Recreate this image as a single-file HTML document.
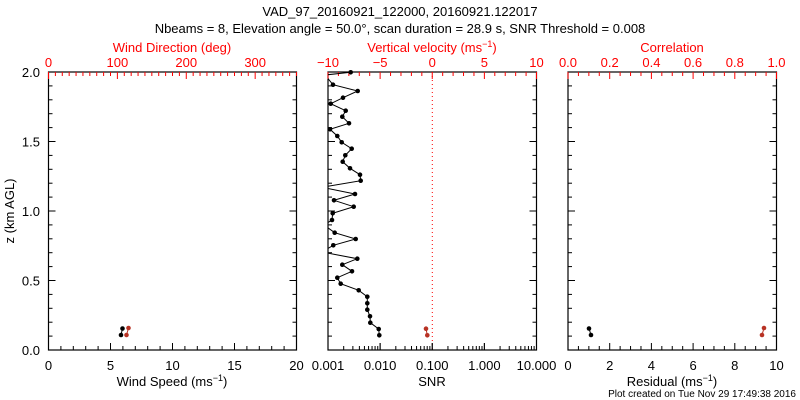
<!DOCTYPE html>
<html><head><meta charset="utf-8"><style>
html,body{margin:0;padding:0;background:#fff;}
svg{display:block;font-family:"Liberation Sans",sans-serif;}
</style></head><body>
<svg id="s" width="800" height="400" xmlns="http://www.w3.org/2000/svg">
<rect width="800" height="400" fill="#fff"/>
<text x="400" y="16" font-size="13" text-anchor="middle">VAD_97_20160921_122000, 20160921.122017</text>
<text x="400" y="33" font-size="13" text-anchor="middle">Nbeams = 8, Elevation angle = 50.0°, scan duration = 28.9 s, SNR Threshold = 0.008</text>
<g id="g"></g>
</svg>
<script>
var NS="http://www.w3.org/2000/svg",g=document.getElementById("g");
function el(t,a,txt){var e=document.createElementNS(NS,t);for(var k in a)e.setAttribute(k,a[k]);if(txt!==undefined)e.textContent=txt;g.appendChild(e);return e;}
function line(x1,y1,x2,y2,c,w,d){var a={x1:x1,y1:y1,x2:x2,y2:y2,stroke:c||"#000","stroke-width":w||1};if(d)a["stroke-dasharray"]=d;el("line",a);}
function txt(x,y,s,c,anc,fs){el("text",{x:x,y:y,fill:c||"#000","font-size":fs||13,"text-anchor":anc||"middle"},s);}
var T=72,B=350;
var panels=[[48.5,296.5],[328,536.5],[568,776.5]];
function yp(z){return B-(B-T)*z/2;}
panels.forEach(function(p,i){
  el("rect",{x:p[0],y:T,width:p[1]-p[0],height:B-T,fill:"none",stroke:"#000","stroke-width":1.2});
  for(var k=0;k<=20;k++){var y=yp(k/10),L=(k%5==0)?7:4;line(p[0],y,p[0]+L,y);line(p[1],y,p[1]-L,y);}
});
for(var k=0;k<=4;k++)txt(40,yp(k*0.5)+5,(k*0.5).toFixed(1),"#000","end");
el("text",{x:0,y:0,"font-size":13,"text-anchor":"middle",transform:"translate(14,211) rotate(-90)"},"z (km AGL)");
// panel 1
var p=panels[0],W=p[1]-p[0];
for(var k=0;k<=20;k++){var x=p[0]+W*k/20;line(x,B,x,B-(k%5?4:7));}
[0,5,10,15,20].forEach(function(v){txt(p[0]+W*v/20,370,v);});
for(var k=0;k<=36;k++){var x=p[0]+W*k*10/360;line(x,T,x,T+(k%10?4:7),"#f00");}
[0,100,200,300].forEach(function(v){txt(p[0]+W*v/360,67,v,"#f00");});
txt(172,52,"Wind Direction (deg)","#f00");
el("text",{x:172,y:386,"font-size":13,"text-anchor":"middle"}).innerHTML='Wind Speed (ms<tspan dy="-5" font-size="9">−1</tspan><tspan dy="5">)</tspan>';
// panel 2
p=panels[1];W=p[1]-p[0];
for(var k=0;k<=20;k++){var x=p[0]+W*k/20;line(x,T,x,T+(k%5?4:7),"#f00");}
[-10,-5,0,5,10].forEach(function(v){txt(p[0]+W*(v+10)/20,67,v==-10?"−10":v==-5?"−5":v,"#f00");});
line(432.3,T,432.3,B,"#f00",1,"1,3");
for(var d=0;d<4;d++)for(var m=1;m<=10;m++){var x=p[0]+W*(d+Math.log10(m))/4;line(x,B,x,B-(m==10||m==1?7:4));}
["0.001","0.010","0.100","1.000","10.000"].forEach(function(v,i){txt(p[0]+W*i/4,370,v);});
txt(432,386,"SNR");
el("text",{x:432,y:52,"font-size":13,"text-anchor":"middle",fill:"#f00"}).innerHTML='Vertical velocity (ms<tspan dy="-5" font-size="9">−1</tspan><tspan dy="5">)</tspan>';
// panel 3
p=panels[2];W=p[1]-p[0];
for(var k=0;k<=20;k++){var x=p[0]+W*k/20;line(x,B,x,B-(k%4?4:7));line(x,T,x,T+(k%4?4:7),"#f00");}
[0,2,4,6,8,10].forEach(function(v){txt(p[0]+W*v/10,370,v);});
["0.0","0.2","0.4","0.6","0.8","1.0"].forEach(function(v,i){txt(p[0]+W*i/5,67,v,"#f00");});
txt(672,52,"Correlation","#f00");
el("text",{x:672,y:386,"font-size":13,"text-anchor":"middle"}).innerHTML='Residual (ms<tspan dy="-5" font-size="9">−1</tspan><tspan dy="5">)</tspan>';
txt(796,397,"Plot created on Tue Nov 29 17:49:38 2016","#000","end",10);
// data
var pts=[[350.7,72.3],[325,75],[333,84.7],[357.7,91],[343,97.7],[330.7,103.7],[345.7,110.7],[342.3,116.7],[349,123.3],[330,129.3],[337.3,136],[341.7,142.3],[351.7,148.7],[345.3,155.3],[342.7,161.7],[350,168.3],[360,174.7],[360.7,180.7],[322,187.3],[355,194],[334,200.3],[353.7,206.7],[332.7,213.3],[332,220],[324,225],[334.7,232.7],[355.7,239],[333.3,245.3],[322,252],[357.3,258.7],[342.3,264.7],[352,271.3],[337.3,277.7],[340.7,283.7],[358.7,290.3],[367.3,296.7],[367.3,303.3],[367.3,309.7],[370,316.3],[370.3,322.7],[378.7,329],[379.3,335.3]];
el("clipPath",{id:"c"});
var cp=document.getElementById("c");var r=document.createElementNS(NS,"rect");r.setAttribute("x",328);r.setAttribute("y",72);r.setAttribute("width",209);r.setAttribute("height",278);cp.appendChild(r);
el("polyline",{points:pts.map(function(q){return q.join(",")}).join(" "),fill:"none",stroke:"#000","stroke-width":1,"clip-path":"url(#c)"});
pts.forEach(function(q){if(q[0]>=327)el("circle",{cx:q[0],cy:q[1],r:2.3,fill:"#000"});});
function pair(a,b,c){line(a[0],a[1],b[0],b[1],c,1);el("circle",{cx:a[0],cy:a[1],r:2.3,fill:c});el("circle",{cx:b[0],cy:b[1],r:2.3,fill:c});}
pair([122.5,328.5],[121,335],"#000");
pair([128.5,328],[126.5,335],"#b83224");
pair([426,328.7],[427.3,335.3],"#b83224");
pair([589,328.5],[591,335],"#000");
pair([764,328],[762,335],"#b83224");
</script>
</body></html>
